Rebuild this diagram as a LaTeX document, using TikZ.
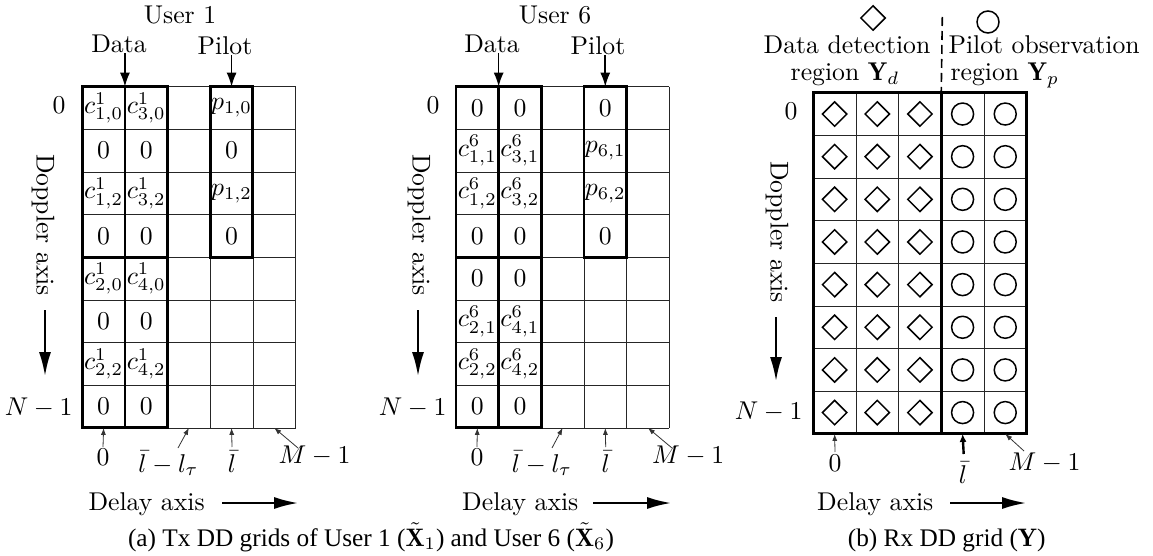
\documentclass[tikz,border=0pt]{standalone}
\usepackage{fontspec}
\newfontfamily\capfont{Liberation Serif}
\usetikzlibrary{arrows.meta,shapes.geometric}
\newcommand\cellnode[4]{\node[cellt] (#1) at (#3+0.5,#2+0.5) {#4};}
\newcommand\ddlines{%
  \foreach \i in {0,...,5}{ \draw[gridthin] (\i,0) -- (\i,8); }
  \foreach \j in {0,...,8}{ \draw[gridthin] (0,\j) -- (5,\j); }}
\begin{document}
\begin{tikzpicture}[x=1pt,y=-1pt,
  lbl/.style={scale=2.57, inner sep=0pt},
  cellt/.style={scale=2.57, inner sep=0pt},
  capt/.style={font=\capfont, scale=2.53, inner sep=0pt},
  gridthin/.style={line width=0.8pt, black!85},
  gridthick/.style={line width=2.9pt, line join=miter},
  ptr/.style={-{Latex[length=14pt,width=10pt]}, line width=1.6pt},
  bigptr/.style={-{Latex[length=24pt,width=12pt]}, line width=2pt},
  tinyptr/.style={-{Latex[length=7pt,width=5pt]}, line width=0.8pt, black!80},
  boldptr/.style={-{Latex[length=8pt,width=7pt]}, line width=2.4pt},
  dsym/.style={diamond, draw, line width=1.5pt, minimum width=25pt, minimum height=25pt, inner sep=0pt},
  csym/.style={circle, draw, line width=1.5pt, minimum size=22pt, inner sep=0pt},
  sep/.style={line width=1.6pt, dash pattern=on 9pt off 5pt}]
\useasboundingbox (0,0) rectangle (1153,556);

% ---------------- Tx grid of user 1 ----------------
\begin{scope}[xshift=82.3pt, yshift=-86.7pt, x=42.65pt, y=-42.65pt]
  \ddlines
  \cellnode{a00}{0}{0}{$c^{1}_{1,0}$}
  \cellnode{a01}{0}{1}{$c^{1}_{3,0}$}
  \cellnode{a03}{0}{3}{$p_{1,0}$}
  \cellnode{a10}{1}{0}{$0$}
  \cellnode{a11}{1}{1}{$0$}
  \cellnode{a13}{1}{3}{$0$}
  \cellnode{a20}{2}{0}{$c^{1}_{1,2}$}
  \cellnode{a21}{2}{1}{$c^{1}_{3,2}$}
  \cellnode{a23}{2}{3}{$p_{1,2}$}
  \cellnode{a30}{3}{0}{$0$}
  \cellnode{a31}{3}{1}{$0$}
  \cellnode{a33}{3}{3}{$0$}
  \cellnode{a40}{4}{0}{$c^{1}_{2,0}$}
  \cellnode{a41}{4}{1}{$c^{1}_{4,0}$}
  \cellnode{a50}{5}{0}{$0$}
  \cellnode{a51}{5}{1}{$0$}
  \cellnode{a60}{6}{0}{$c^{1}_{2,2}$}
  \cellnode{a61}{6}{1}{$c^{1}_{4,2}$}
  \cellnode{a70}{7}{0}{$0$}
  \cellnode{a71}{7}{1}{$0$}
  \draw[gridthick] (0,0) rectangle (1,4) (1,0) rectangle (2,4)
                   (0,4) rectangle (1,8) (1,4) rectangle (2,8)
                   (3,0) rectangle (4,4);
  \coordinate (aTd) at (1,0);
  \coordinate (aTp) at (3.5,0);
  \coordinate (aB0) at (0.5,8);
  \coordinate (aB2) at (2.5,8);
  \coordinate (aB3) at (3.5,8);
  \coordinate (aB4) at (4.5,8);
\end{scope}

% ---------------- Tx grid of user 6 ----------------
\begin{scope}[xshift=456pt, yshift=-86.7pt, x=42.65pt, y=-42.65pt]
  \ddlines
  \cellnode{b00}{0}{0}{$0$}
  \cellnode{b01}{0}{1}{$0$}
  \cellnode{b03}{0}{3}{$0$}
  \cellnode{b10}{1}{0}{$c^{6}_{1,1}$}
  \cellnode{b11}{1}{1}{$c^{6}_{3,1}$}
  \cellnode{b13}{1}{3}{$p_{6,1}$}
  \cellnode{b20}{2}{0}{$c^{6}_{1,2}$}
  \cellnode{b21}{2}{1}{$c^{6}_{3,2}$}
  \cellnode{b23}{2}{3}{$p_{6,2}$}
  \cellnode{b30}{3}{0}{$0$}
  \cellnode{b31}{3}{1}{$0$}
  \cellnode{b33}{3}{3}{$0$}
  \cellnode{b40}{4}{0}{$0$}
  \cellnode{b41}{4}{1}{$0$}
  \cellnode{b50}{5}{0}{$c^{6}_{2,1}$}
  \cellnode{b51}{5}{1}{$c^{6}_{4,1}$}
  \cellnode{b60}{6}{0}{$c^{6}_{2,2}$}
  \cellnode{b61}{6}{1}{$c^{6}_{4,2}$}
  \cellnode{b70}{7}{0}{$0$}
  \cellnode{b71}{7}{1}{$0$}
  \draw[gridthick] (0,0) rectangle (1,4) (1,0) rectangle (2,4)
                   (0,4) rectangle (1,8) (1,4) rectangle (2,8)
                   (3,0) rectangle (4,4);
  \coordinate (bTd) at (1,0);
  \coordinate (bTp) at (3.5,0);
  \coordinate (bB0) at (0.5,8);
  \coordinate (bB2) at (2.5,8);
  \coordinate (bB3) at (3.5,8);
  \coordinate (bB4) at (4.5,8);
\end{scope}

% ---------------- Rx grid ----------------
\begin{scope}[xshift=813.3pt, yshift=-92.7pt, x=42.65pt, y=-42.65pt]
  \ddlines
  \foreach \r in {0,...,7}{
    \foreach \c in {0,1,2}{ \node[dsym] (d\r\c) at (\c+0.5,\r+0.5) {}; }
    \foreach \c in {3,4}{ \node[csym] (o\r\c) at (\c+0.5,\r+0.5) {}; }
  }
  \draw[gridthick] (0,0) rectangle (5,8) (3,0) -- (3,8);
  \coordinate (cT3) at (3,0);
  \coordinate (cB0) at (0.5,8);
  \coordinate (cB3) at (3.5,8);
  \coordinate (cB4) at (4.5,8);
\end{scope}

% ---------------- labels: user 1 ----------------
\node[lbl, anchor=base] (u1) at (180,23.3) {User 1};
\node[lbl, anchor=base] (u1d) at (119,52.7) {Data};
\node[lbl, anchor=base] (u1p) at (225,54.5) {Pilot};
\draw[ptr] (aTd |- u1d.south) -- (aTd);
\draw[ptr] (aTp |- u1p.south) -- (aTp);
\node[lbl, anchor=base] (u1r0) at (59,113.3) {$0$};
\node[lbl, anchor=base east] (u1rN) at (73,415.7) {$N-1$};
\node[lbl, rotate=-90] (u1dop) at (43,225) {Doppler axis};
\coordinate (u1dA) at (45,310);
\coordinate (u1dB) at (45,376);
\draw[bigptr] (u1dA) -- (u1dB);
\node[lbl, anchor=base] (u1c0) at (103,465) {$0$};
\node[lbl, anchor=base] (u1c2) at (168.5,472) {$\bar{l}-l_\tau$};
\node[lbl, anchor=base] (u1c3) at (232,472) {$\bar{l}$};
\node[lbl, anchor=base west] (u1c4) at (278,463) {$M-1$};
\coordinate (u1s0) at (103,447);
\coordinate (u1s2) at (178,448);
\coordinate (u1s3) at (232,447);
\coordinate (u1s4) at (298,448);
\draw[tinyptr] (u1s0) -- (aB0);
\draw[tinyptr] (u1s2) -- (aB2);
\draw[tinyptr] (u1s3) -- (aB3);
\draw[tinyptr] (u1s4) -- (aB4);
\node[lbl, anchor=base west] (u1del) at (88,510) {Delay axis};
\coordinate (u1eA) at (222,503);
\coordinate (u1eB) at (298,503);
\draw[bigptr] (u1eA) -- (u1eB);

% ---------------- labels: user 6 ----------------
\node[lbl, anchor=base] (u6) at (555,23.3) {User 6};
\node[lbl, anchor=base] (u6d) at (492,52.7) {Data};
\node[lbl, anchor=base] (u6p) at (598,54.5) {Pilot};
\draw[ptr] (bTd |- u6d.south) -- (bTd);
\draw[ptr] (bTp |- u6p.south) -- (bTp);
\node[lbl, anchor=base] (u6r0) at (433,113.3) {$0$};
\node[lbl, anchor=base east] (u6rN) at (447,415.7) {$N-1$};
\node[lbl, rotate=-90] (u6dop) at (419,225) {Doppler axis};
\coordinate (u6dA) at (418,310);
\coordinate (u6dB) at (418,376);
\draw[bigptr] (u6dA) -- (u6dB);
\node[lbl, anchor=base] (u6c0) at (477,465) {$0$};
\node[lbl, anchor=base] (u6c2) at (542,472) {$\bar{l}-l_\tau$};
\node[lbl, anchor=base] (u6c3) at (605.7,472) {$\bar{l}$};
\node[lbl, anchor=base west] (u6c4) at (651.7,463) {$M-1$};
\coordinate (u6s0) at (477,447);
\coordinate (u6s2) at (552,448);
\coordinate (u6s3) at (605.7,447);
\coordinate (u6s4) at (672,448);
\draw[tinyptr] (u6s0) -- (bB0);
\draw[tinyptr] (u6s2) -- (bB2);
\draw[tinyptr] (u6s3) -- (bB3);
\draw[tinyptr] (u6s4) -- (bB4);
\node[lbl, anchor=base west] (u6del) at (461.7,510) {Delay axis};
\coordinate (u6eA) at (593,503);
\coordinate (u6eB) at (671,503);
\draw[bigptr] (u6eA) -- (u6eB);

% ---------------- labels: receiver ----------------
\node[dsym] (dkey) at (873,18) {};
\node[csym] (ckey) at (988,22) {};
\coordinate (sepTop) at (942.3,17);
\draw[sep] (sepTop) -- (cT3);
\node[lbl, anchor=base] (rxd1) at (847,53.3) {Data detection};
\node[lbl, anchor=base] (rxd2) at (845,81) {region $\mathbf{Y}_d$};
\node[lbl, anchor=base west] (rxp1) at (948,53.3) {Pilot observation};
\node[lbl, anchor=base west] (rxp2) at (950,81) {region $\mathbf{Y}_p$};
\node[lbl, anchor=base] (rxr0) at (791,119.3) {$0$};
\node[lbl, anchor=base east] (rxrN) at (803,419) {$N-1$};
\node[lbl, rotate=-90] (rxdop) at (777,232) {Doppler axis};
\coordinate (rxdA) at (776,317);
\coordinate (rxdB) at (776,381);
\draw[bigptr] (rxdA) -- (rxdB);
\node[lbl, anchor=base] (rxc0) at (835,471) {$0$};
\node[lbl, anchor=base] (rxc3) at (963,483) {$\bar{l}$};
\node[lbl, anchor=base west] (rxc4) at (1008,470) {$M-1$};
\coordinate (rxs0) at (835,452);
\coordinate (rxs3) at (963.7,454);
\coordinate (rxs4) at (1024,451);
\draw[tinyptr] (rxs0) -- (cB0);
\draw[boldptr] (rxs3) -- (cB3);
\draw[tinyptr] (rxs4) -- (cB4);
\node[lbl, anchor=base west] (rxdel) at (816.7,510.7) {Delay axis};
\coordinate (rxeA) at (950,503);
\coordinate (rxeB) at (1026,503);
\draw[bigptr] (rxeA) -- (rxeB);

% ---------------- captions ----------------
\node[capt, anchor=base] (capa) at (371,546) {(a) Tx DD grids of User 1 ($\tilde{\mathbf{X}}_1$) and User 6 ($\tilde{\mathbf{X}}_6$)};
\node[capt, anchor=base] (capb) at (946.7,546) {(b) Rx DD grid ($\mathbf{Y}$)};
\end{tikzpicture}
\end{document}
